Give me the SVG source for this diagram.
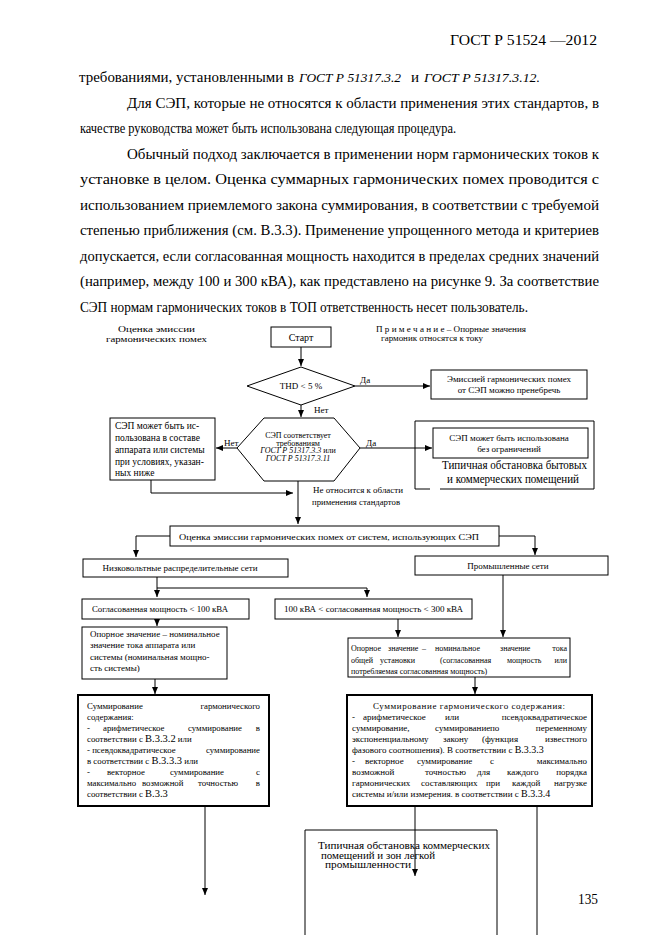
<svg xmlns="http://www.w3.org/2000/svg" width="661" height="935" viewBox="0 0 661 935">
<defs>
<style>
text{font-family:"Liberation Serif","Times New Roman",serif;fill:#000}
.body{font-size:15px}
.s{font-size:8px}
.n{font-size:9px}
.b5{font-size:8.8px}
.b6{font-size:9px}
.i{font-style:italic}
.box{fill:#fff;stroke:#000;stroke-width:1}
.thick{fill:#fff;stroke:#000;stroke-width:2}
.c{fill:none;stroke:#000;stroke-width:1}
.e{text-anchor:end}
.mid{text-anchor:middle}
</style>
<marker id="ah" markerWidth="7" markerHeight="6" refX="7" refY="3" orient="auto" markerUnits="userSpaceOnUse"><path d="M0,0 L7,3 L0,6 z" fill="#000"/></marker>
</defs>
<rect width="661" height="935" fill="#fff"/>

<g id="page-text">
<text class="body" x="450" y="45" textLength="147" lengthAdjust="spacingAndGlyphs">ГОСТ Р  51524  —2012</text>
<text class="body" x="79" y="82" textLength="215" lengthAdjust="spacingAndGlyphs">требованиями, установленными в</text>
<text class="i" x="299" y="82" font-size="13.5" textLength="102" lengthAdjust="spacingAndGlyphs">ГОСТ Р 51317.3.2</text>
<text class="body" x="411" y="82">и</text>
<text class="i" x="424" y="82" font-size="13.5" textLength="116" lengthAdjust="spacingAndGlyphs">ГОСТ Р 51317.3.12.</text>
<text class="body" x="127" y="107.5" textLength="472" lengthAdjust="spacingAndGlyphs">Для  СЭП,  которые не относятся к области  применения  этих стандартов, в</text>
<text class="body" x="80" y="133" textLength="376" lengthAdjust="spacingAndGlyphs">качестве руководства может быть использована следующая процедура.</text>
<text class="body" x="127" y="158.5" textLength="472" lengthAdjust="spacingAndGlyphs">Обычный  подход  заключается  в  применении  норм гармонических  токов  к</text>
<text class="body" x="80" y="184" textLength="519" lengthAdjust="spacingAndGlyphs">установке   в   целом.   Оценка   суммарных   гармонических   помех   проводится   с</text>
<text class="body" x="80" y="209.5" textLength="519" lengthAdjust="spacingAndGlyphs">использованием  приемлемого  закона  суммирования,  в  соответствии  с  требуемой</text>
<text class="body" x="80" y="235" textLength="519" lengthAdjust="spacingAndGlyphs">степенью  приближения (см. В.3.3).   Применение упрощенного метода и критериев</text>
<text class="body" x="80" y="260.5" textLength="519" lengthAdjust="spacingAndGlyphs">допускается,  если  согласованная  мощность находится в пределах средних значений</text>
<text class="body" x="80" y="286" textLength="519" lengthAdjust="spacingAndGlyphs">(например, между 100  и 300 кВА),  как представлено на рисунке 9. За соответствие</text>
<text class="body" x="80" y="311.5" textLength="448" lengthAdjust="spacingAndGlyphs">СЭП нормам гармонических токов в ТОП ответственность несет пользователь.</text>
<text x="578" y="904" font-size="14" textLength="20" lengthAdjust="spacingAndGlyphs">135</text>
</g>

<g id="labels">
<text x="118" y="332" font-size="8.5" textLength="77" lengthAdjust="spacingAndGlyphs">Оценка эмиссии</text>
<text x="106" y="341.5" font-size="8.5" textLength="101" lengthAdjust="spacingAndGlyphs">гармонических помех</text>
<text class="s" x="376" y="332" textLength="150" lengthAdjust="spacingAndGlyphs">П р и м е ч а н и е – Опорные значения</text>
<text class="s" x="381" y="341" textLength="102" lengthAdjust="spacingAndGlyphs">гармоник  относятся к току</text>
</g>

<g id="connectors">
<path class="c" d="M301,347 V366" marker-end="url(#ah)"/>
<path class="c" d="M355,386 H430" marker-end="url(#ah)"/>
<path class="c" d="M301,405 V417" marker-end="url(#ah)"/>
<path class="c" d="M360,448 H432" marker-end="url(#ah)"/>
<path class="c" d="M237,448 H216" marker-end="url(#ah)"/>
<path class="c" d="M151,480 V493 H293" marker-end="url(#ah)"/>
<path class="c" d="M298,481 V524" marker-end="url(#ah)"/>
<path class="c" d="M170,536 H136 V557" marker-end="url(#ah)"/>
<path class="c" d="M499,536 H535 V555" marker-end="url(#ah)"/>
<path class="c" d="M157,577 V597" marker-end="url(#ah)"/>
<path class="c" d="M157,588 H367 V597" marker-end="url(#ah)"/>
<path class="c" d="M157,619 V626" marker-end="url(#ah)"/>
<path class="c" d="M398,619 V637" marker-end="url(#ah)"/>
<path class="c" d="M503,575 V637" marker-end="url(#ah)"/>
<path class="c" d="M155,679 V694" marker-end="url(#ah)"/>
<path class="c" d="M475,677 V694" marker-end="url(#ah)"/>
<path class="c" d="M205,807 V895" marker-end="url(#ah)"/>
<path class="c" d="M415,807 V876" marker-end="url(#ah)"/>
<path class="c" d="M537,807 V935"/>
<text class="n" x="360" y="383">Да</text>
<text class="n" x="314" y="413">Нет</text>
<text class="n" x="366" y="446">Да</text>
<text class="n" x="224" y="446">Нет</text>
<text class="s" x="313" y="493" textLength="90" lengthAdjust="spacingAndGlyphs">Не относится к области</text>
<text class="s" x="312" y="505" textLength="88" lengthAdjust="spacingAndGlyphs">применения стандартов</text>
</g>

<g id="start">
<rect class="box" x="271" y="327" width="60" height="20"/>
<text class="mid" x="301" y="341" font-size="10">Старт</text>
</g>

<g id="thd">
<polygon class="box" points="247,386 301,367 355,386 301,405"/>
<text class="n mid" x="301" y="389">THD &lt; 5 %</text>
</g>

<g id="neglect">
<rect class="box" x="431" y="370" width="156" height="29"/>
<text class="n mid" x="509" y="382">Эмиссией  гармонических помех</text>
<text class="n mid" x="509" y="393">от СЭП можно пренебречь</text>
</g>

<g id="gost-check">
<polygon class="box" points="237,448 264,418 334,418 360,448 334,481 264,481"/>
<text class="s mid" x="298" y="438">СЭП соответствует</text>
<text class="s mid" x="298" y="445.5">требованиям</text>
<text class="s mid" x="298" y="453"><tspan class="i">ГОСТ Р 51317.3.3</tspan> или</text>
<text class="s mid i" x="298" y="460.5">ГОСТ Р 51317.3.11</text>
</g>

<g id="conditional">
<rect class="box" x="110" y="418" width="105" height="62"/>
<text x="115" y="429" font-size="9.5">СЭП может быть ис-</text>
<text x="115" y="441" font-size="9.5">пользована в составе</text>
<text x="115" y="453" font-size="9.5">аппарата или системы</text>
<text x="115" y="465" font-size="9.5">при условиях, указан-</text>
<text x="115" y="476" font-size="9.5">ных ниже</text>
</g>

<g id="household">
<path class="c" d="M415,489 V421 H594 V489 H440 M430,489 H415"/>
<rect class="box" x="433" y="428" width="155" height="30"/>
<text class="n mid" x="509" y="441">СЭП может быть использована</text>
<text class="n mid" x="509" y="452">без ограничений</text>
<text x="442" y="469" font-size="11.5" textLength="145" lengthAdjust="spacingAndGlyphs">Типичная обстановка бытовых</text>
<text x="447" y="483" font-size="11.5" textLength="132" lengthAdjust="spacingAndGlyphs">и коммерческих помещений</text>
</g>

<g id="assessment">
<rect class="box" x="170" y="526" width="329" height="20"/>
<text class="s" x="179" y="539.5" textLength="300" lengthAdjust="spacingAndGlyphs">Оценка эмиссии гармонических помех от систем, использующих СЭП</text>
</g>

<g id="lv-networks">
<rect class="box" x="83" y="559" width="205" height="18"/>
<text class="n mid" x="180" y="571">Низковольтные распределительные сети</text>
</g>

<g id="industrial">
<rect class="box" x="415" y="556" width="193" height="19"/>
<text class="n mid" x="508" y="568.5">Промышленные    сети</text>
</g>

<g id="p-under-100">
<rect class="box" x="82" y="599" width="167" height="20"/>
<text class="s" x="92" y="612" textLength="136" lengthAdjust="spacingAndGlyphs">Согласованная мощность &lt; 100 кВА</text>
</g>

<g id="p-100-300">
<rect class="box" x="275" y="599" width="197" height="20"/>
<text class="s" x="284" y="612" textLength="179" lengthAdjust="spacingAndGlyphs">100 кВА &lt; согласованная мощность &lt; 300 кВА</text>
</g>

<g id="ref-device">
<rect class="box" x="82" y="627" width="145" height="52"/>
<text class="n" x="90" y="637">Опорное значение – номинальное</text>
<text class="n" x="90" y="648">значение тока  аппарата или</text>
<text class="n" x="90" y="660">системы  (номинальная мощно-</text>
<text class="n" x="90" y="671">сть системы)</text>
</g>

<g id="ref-installation">
<rect class="box" x="348" y="638" width="222" height="39"/>
<text class="s" x="351" y="651">Опорное</text>
<text class="s" x="388" y="651">значение</text>
<text class="s" x="422" y="651">–</text>
<text class="s" x="435" y="651">номинальное</text>
<text class="s" x="500" y="651">значение</text>
<text class="s e" x="567" y="651">тока</text>
<text class="s" x="351" y="663">общей</text>
<text class="s" x="380" y="663">установки</text>
<text class="s" x="440" y="663">(согласованная</text>
<text class="s" x="507" y="663">мощность</text>
<text class="s e" x="567" y="663">или</text>
<text class="s" x="351" y="674">потребляемая согласованная мощность)</text>
</g>

<g id="sum-left">
<rect class="thick" x="78" y="695" width="191" height="111"/>
<text class="b5" x="87" y="709">Суммирование</text>
<text class="b5 e" x="260" y="709">гармонического</text>
<text class="b5" x="87" y="720">содержания:</text>
<text class="b5" x="87" y="731">-</text>
<text class="b5" x="103" y="731">арифметическое</text>
<text class="b5" x="188" y="731">суммирование</text>
<text class="b5 e" x="260" y="731">в</text>
<text class="b5" x="87" y="742">соответствии с <tspan font-size="10.5">В.3.3.2</tspan> или</text>
<text class="b5" x="87" y="753">- псевдоквадратическое</text>
<text class="b5 e" x="260" y="753">суммирование</text>
<text class="b5" x="87" y="764">в соответствии с <tspan font-size="10.5">В.3.3.3</tspan> или</text>
<text class="b5" x="87" y="775">-</text>
<text class="b5" x="107" y="775">векторное</text>
<text class="b5" x="170" y="775">суммирование</text>
<text class="b5 e" x="260" y="775">с</text>
<text class="b5" x="87" y="786">максимально</text>
<text class="b5" x="142" y="786">возможной</text>
<text class="b5" x="198" y="786">точностью</text>
<text class="b5 e" x="260" y="786">в</text>
<text class="b5" x="87" y="797">соответствии с <tspan font-size="10.5">В.3.3</tspan></text>
</g>

<g id="sum-right">
<rect class="thick" x="347" y="695" width="245" height="111"/>
<text class="b6" x="373" y="709" textLength="192" lengthAdjust="spacing">Суммирование гармонического содержания:</text>
<text class="b6" x="352" y="720">-</text>
<text class="b6" x="363" y="720">арифметическое</text>
<text class="b6" x="445" y="720">или</text>
<text class="b6 e" x="587" y="720">псевдоквадратическое</text>
<text class="b6" x="352" y="731">суммирование,</text>
<text class="b6" x="435" y="731">суммирование</text>
<text class="b6" x="490" y="731">по</text>
<text class="b6 e" x="587" y="731">переменному</text>
<text class="b6" x="352" y="742">экспоненциальному</text>
<text class="b6" x="443" y="742">закону</text>
<text class="b6" x="482" y="742">(функция</text>
<text class="b6 e" x="587" y="742">известного</text>
<text class="b6" x="352" y="753">фазового соотношения). В соответствии с <tspan font-size="10">В.3.3.3</tspan></text>
<text class="b6" x="352" y="764">-</text>
<text class="b6" x="365" y="764">векторное</text>
<text class="b6" x="417" y="764">суммирование</text>
<text class="b6" x="490" y="764">с</text>
<text class="b6 e" x="587" y="764">максимально</text>
<text class="b6" x="352" y="775">возможной</text>
<text class="b6" x="425" y="775">точностью</text>
<text class="b6" x="477" y="775">для</text>
<text class="b6" x="507" y="775">каждого</text>
<text class="b6 e" x="587" y="775">порядка</text>
<text class="b6" x="352" y="786">гармонических</text>
<text class="b6" x="421" y="786">составляющих</text>
<text class="b6" x="486" y="786">при</text>
<text class="b6" x="512" y="786">каждой</text>
<text class="b6 e" x="587" y="786">нагрузке</text>
<text class="b6" x="352" y="797">системы  и/или измерения. в соответствии с <tspan font-size="10">В.3.3.4</tspan></text>
</g>

<g id="commercial">
<path class="c" d="M305,935 V830 H497 V935"/>
<text x="318" y="849" font-size="10.5" textLength="172" lengthAdjust="spacingAndGlyphs">Типичная обстановка  коммерческих</text>
<text x="321" y="858.5" font-size="10.5" textLength="114" lengthAdjust="spacingAndGlyphs">помещений и зон легкой</text>
<text x="325" y="868" font-size="10.5" textLength="86" lengthAdjust="spacingAndGlyphs">промышленности</text>
</g>
</svg>
